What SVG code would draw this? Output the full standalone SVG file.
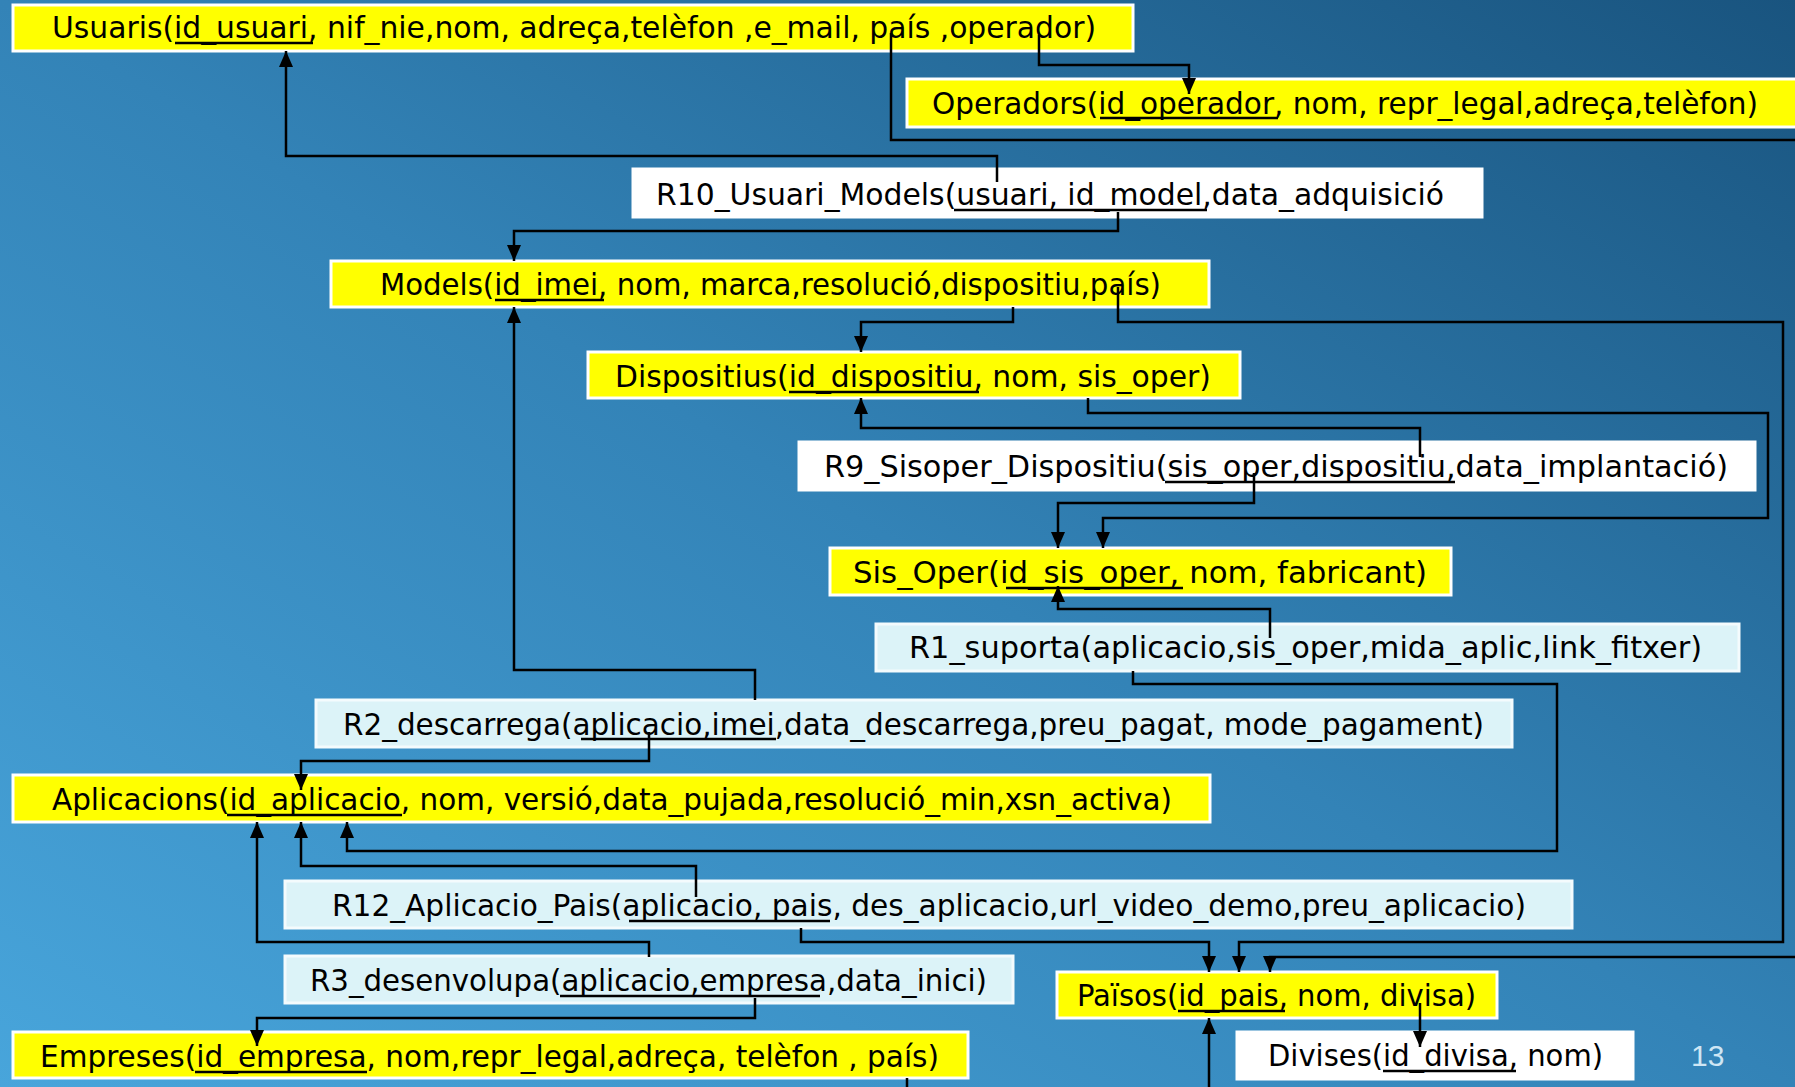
<svg xmlns="http://www.w3.org/2000/svg" width="1795" height="1087" viewBox="0 0 1795 1087">
  <defs>
    <linearGradient id="bg" x1="1" y1="0" x2="0" y2="1">
      <stop offset="0" stop-color="#19547f"/>
      <stop offset="0.5" stop-color="#3383b7"/>
      <stop offset="1" stop-color="#48a5db"/>
    </linearGradient>
    <marker id="arrow" viewBox="0 0 16 14" refX="16" refY="7" markerWidth="16" markerHeight="14" markerUnits="userSpaceOnUse" orient="auto">
      <path d="M0,0 L16,7 L0,14 z" fill="#000"/>
    </marker>
  </defs>
  <style>
    .entity { fill: #ffff00; stroke: #ffffff; stroke-width: 3; }
    .rel { fill: #dcf3f8; stroke: #f4fbfd; stroke-width: 3; }
    .plain { fill: #ffffff; stroke: #ffffff; stroke-width: 3; }
    .label { font-family: "DejaVu Sans Condensed", "DejaVu Sans", sans-serif; font-size: 31px; fill: #000; }
    .key { stroke: #000; stroke-width: 2.5; fill: none; }
    .link { stroke: #000; stroke-width: 2.5; fill: none; marker-end: url(#arrow); }
    .page { font-family: "Liberation Sans", Arial, sans-serif; font-size: 30px; fill: #cfe6f4; }
  </style>

  <rect x="0" y="0" width="1795" height="1087" fill="url(#bg)"/>

  <g id="usuaris">
    <rect class="entity" x="13" y="5" width="1120" height="46"/>
    <text class="label" x="52" y="38" textLength="1044" lengthAdjust="spacingAndGlyphs">Usuaris(id_usuari, nif_nie,nom, adreça,telèfon ,e_mail, país ,operador)</text>
    <line class="key" x1="175" y1="43" x2="313" y2="43"/>
  </g>

  <g id="operadors">
    <rect class="entity" x="907" y="79" width="900" height="48"/>
    <text class="label" x="932" y="114" textLength="826" lengthAdjust="spacingAndGlyphs">Operadors(id_operador, nom, repr_legal,adreça,telèfon)</text>
    <line class="key" x1="1100" y1="118" x2="1278" y2="118"/>
  </g>

  <g id="r10-usuari-models">
    <rect class="plain" x="633" y="169" width="849" height="48"/>
    <text class="label" x="656" y="205" textLength="788" lengthAdjust="spacingAndGlyphs">R10_Usuari_Models(usuari, id_model,data_adquisició</text>
    <line class="key" x1="954" y1="210" x2="1207" y2="210"/>
  </g>

  <g id="models">
    <rect class="entity" x="331" y="261" width="878" height="46"/>
    <text class="label" x="380" y="295" textLength="781" lengthAdjust="spacingAndGlyphs">Models(id_imei, nom, marca,resolució,dispositiu,país)</text>
    <line class="key" x1="495" y1="300" x2="604" y2="300"/>
  </g>

  <g id="dispositius">
    <rect class="entity" x="588" y="352" width="652" height="46"/>
    <text class="label" x="615" y="387" textLength="596" lengthAdjust="spacingAndGlyphs">Dispositius(id_dispositiu, nom, sis_oper)</text>
    <line class="key" x1="789" y1="392" x2="979" y2="392"/>
  </g>

  <g id="r9-sisoper-dispositiu">
    <rect class="plain" x="799" y="442" width="956" height="48"/>
    <text class="label" x="824" y="477" textLength="904" lengthAdjust="spacingAndGlyphs">R9_Sisoper_Dispositiu(sis_oper,dispositiu,data_implantació)</text>
    <line class="key" x1="1165" y1="482" x2="1455" y2="482"/>
  </g>

  <g id="sis-oper">
    <rect class="entity" x="830" y="548" width="621" height="47"/>
    <text class="label" x="853" y="583" textLength="574" lengthAdjust="spacingAndGlyphs">Sis_Oper(id_sis_oper, nom, fabricant)</text>
    <line class="key" x1="1006" y1="588" x2="1183" y2="588"/>
  </g>

  <g id="r1-suporta">
    <rect class="rel" x="876" y="624" width="863" height="47"/>
    <text class="label" x="909" y="658" textLength="793" lengthAdjust="spacingAndGlyphs">R1_suporta(aplicacio,sis_oper,mida_aplic,link_fitxer)</text>
  </g>

  <g id="r2-descarrega">
    <rect class="rel" x="316" y="700" width="1196" height="47"/>
    <text class="label" x="343" y="735" textLength="1141" lengthAdjust="spacingAndGlyphs">R2_descarrega(aplicacio,imei,data_descarrega,preu_pagat, mode_pagament)</text>
    <line class="key" x1="581" y1="739" x2="776" y2="739"/>
  </g>

  <g id="aplicacions">
    <rect class="entity" x="13" y="775" width="1197" height="47"/>
    <text class="label" x="52" y="810" textLength="1120" lengthAdjust="spacingAndGlyphs">Aplicacions(id_aplicacio, nom, versió,data_pujada,resolució_min,xsn_activa)</text>
    <line class="key" x1="227" y1="815" x2="402" y2="815"/>
  </g>

  <g id="r12-aplicacio-pais">
    <rect class="rel" x="285" y="881" width="1287" height="47"/>
    <text class="label" x="332" y="916" textLength="1194" lengthAdjust="spacingAndGlyphs">R12_Aplicacio_Pais(aplicacio, pais, des_aplicacio,url_video_demo,preu_aplicacio)</text>
    <line class="key" x1="629" y1="921" x2="830" y2="921"/>
  </g>

  <g id="r3-desenvolupa">
    <rect class="rel" x="285" y="956" width="728" height="47"/>
    <text class="label" x="310" y="991" textLength="677" lengthAdjust="spacingAndGlyphs">R3_desenvolupa(aplicacio,empresa,data_inici)</text>
    <line class="key" x1="560" y1="996" x2="820" y2="996"/>
  </g>

  <g id="empreses">
    <rect class="entity" x="13" y="1032" width="955" height="46"/>
    <text class="label" x="40" y="1067" textLength="899" lengthAdjust="spacingAndGlyphs">Empreses(id_empresa, nom,repr_legal,adreça, telèfon , país)</text>
    <line class="key" x1="195" y1="1072" x2="367" y2="1072"/>
  </g>

  <g id="paisos">
    <rect class="entity" x="1057" y="972" width="440" height="46"/>
    <text class="label" x="1077" y="1006" textLength="399" lengthAdjust="spacingAndGlyphs">Països(id_pais, nom, divisa)</text>
    <line class="key" x1="1178" y1="1011" x2="1285" y2="1011"/>
  </g>

  <g id="divises">
    <rect class="plain" x="1237" y="1032" width="396" height="47"/>
    <text class="label" x="1268" y="1066" textLength="335" lengthAdjust="spacingAndGlyphs">Divises(id_divisa, nom)</text>
    <line class="key" x1="1383" y1="1071" x2="1516" y2="1071"/>
  </g>

  <!-- connectors, drawn over the boxes so they reach into the key fields -->
  <g id="connectors">
    <path class="link" d="M997,182 V156 H286 V51"/>
    <path class="link" d="M1039,35 V65 H1189 V94"/>
    <path class="link" d="M891,33 V140 H1800 M1800,957 H1270 V972"/>
    <path class="link" d="M1118,212 V231 H514 V261"/>
    <path class="link" d="M1013,307 V322 H861 V352"/>
    <path class="link" d="M1118,287 V322 H1783 V942 H1239 V972"/>
    <path class="link" d="M1420,457 V428 H861 V398"/>
    <path class="link" d="M1088,398 V413 H1768 V518 H1103 V548"/>
    <path class="link" d="M1254,473 V503 H1058 V548"/>
    <path class="link" d="M1270,638 V609 H1058 V586"/>
    <path class="link" d="M1133,671 V684 H1557 V851 H347 V822"/>
    <path class="link" d="M755,700 V670 H514 V307"/>
    <path class="link" d="M649,732 V761 H301 V790"/>
    <path class="link" d="M696,897 V866 H301 V822"/>
    <path class="link" d="M801,928 V942 H1209 V972"/>
    <path class="link" d="M649,957 V942 H257 V822"/>
    <path class="link" d="M755,998 V1018 H257 V1046"/>
    <path class="link" d="M907,1078 V1092 M1209,1092 V1018"/>
    <path class="link" d="M1420,1003 V1047"/>
  </g>

  <text class="page" x="1691" y="1066">13</text>
</svg>
